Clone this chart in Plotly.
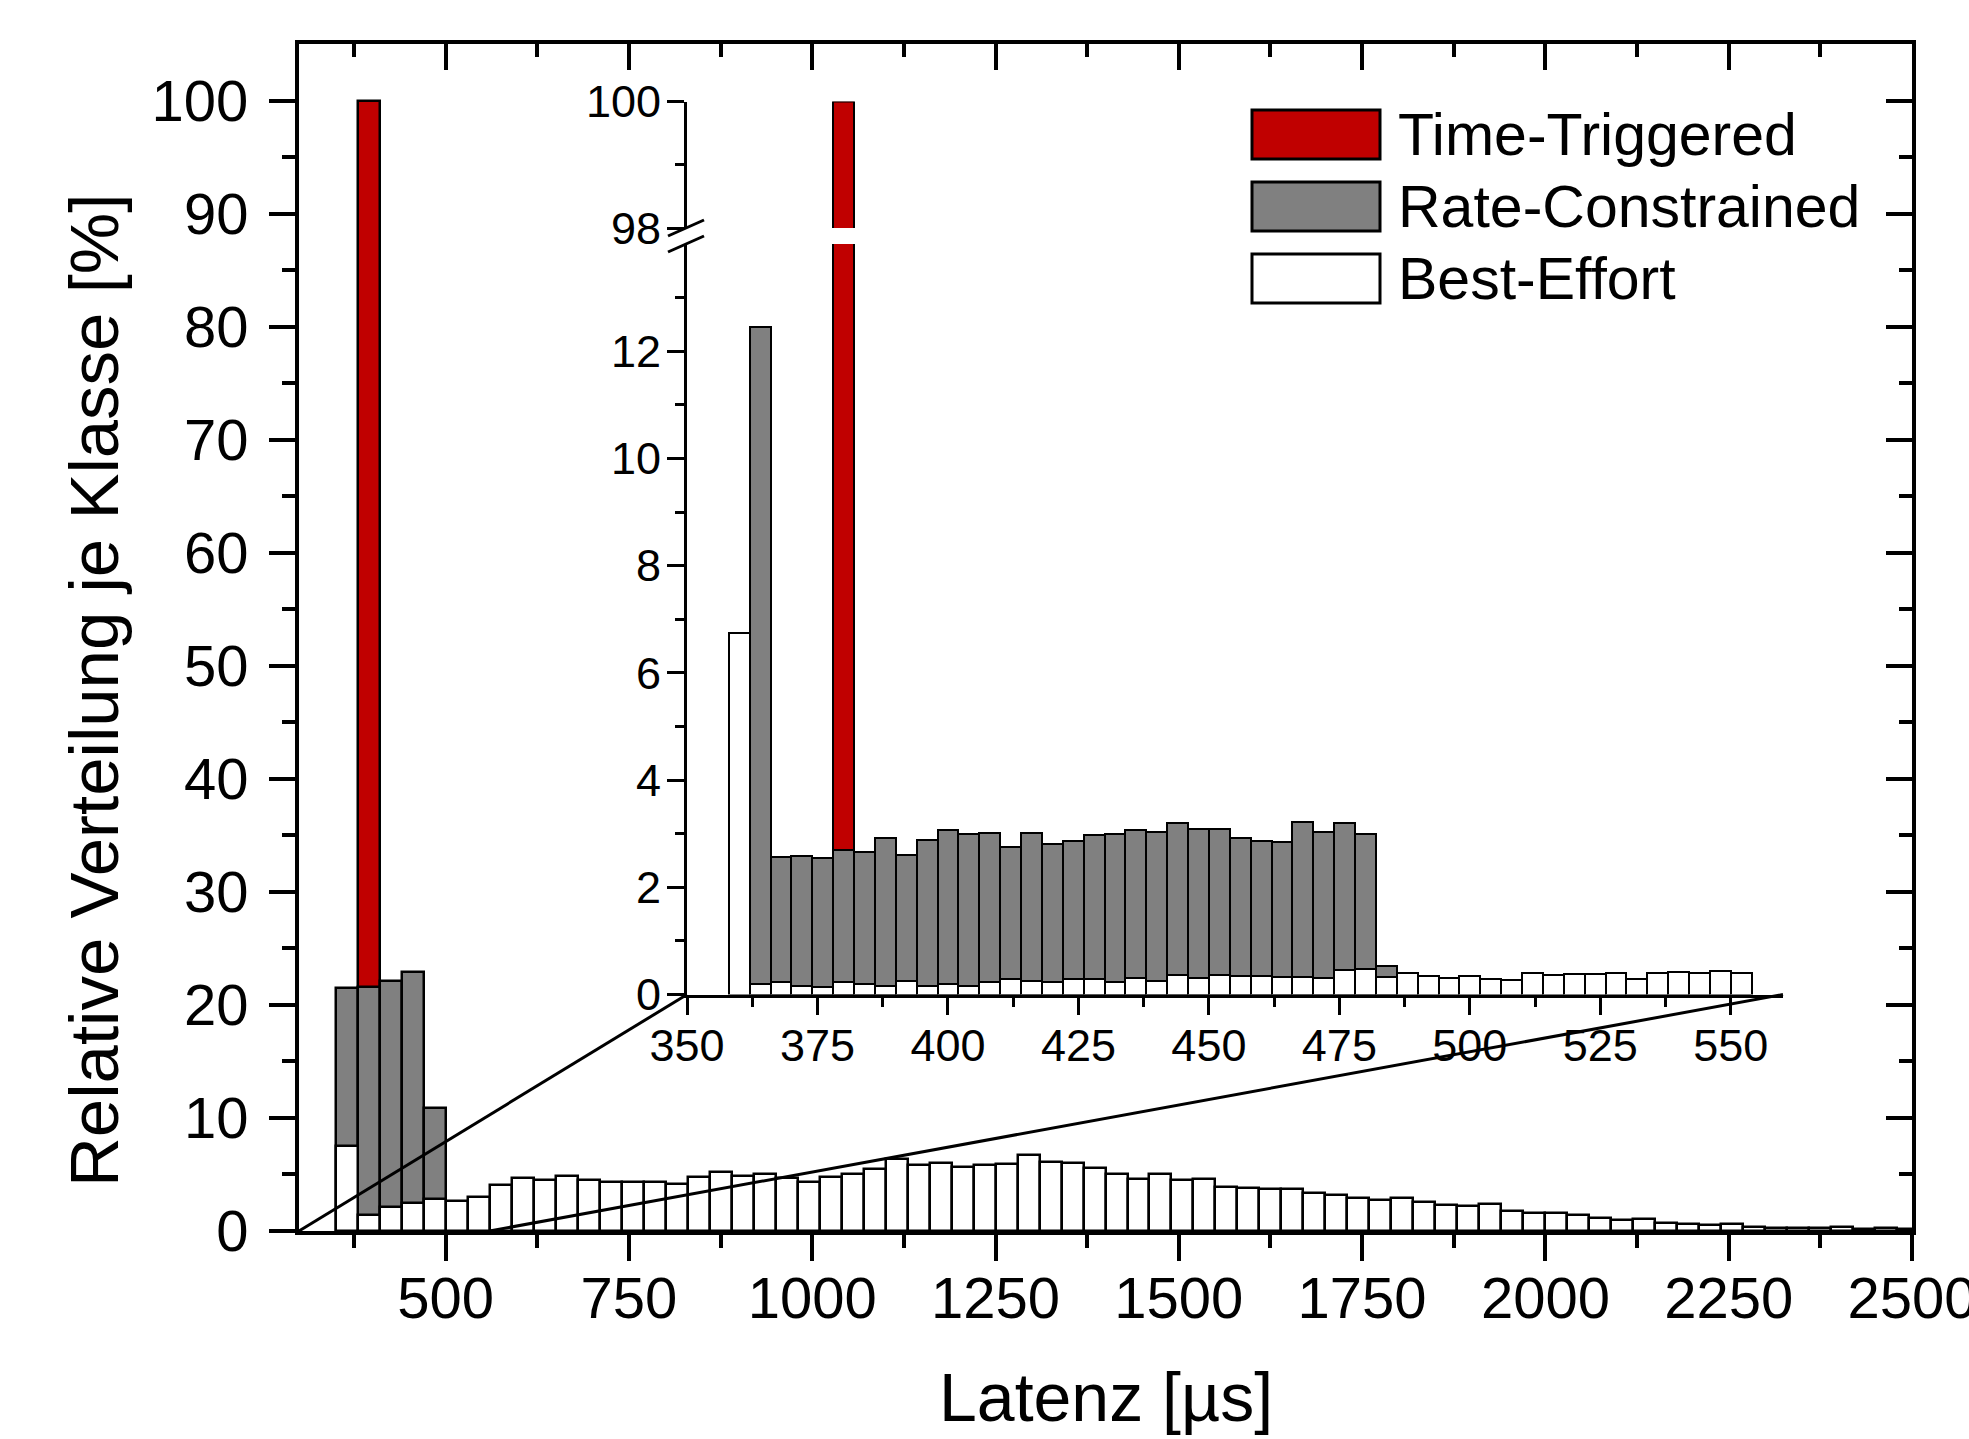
import numpy as np
import plotly.graph_objects as go

# ---- data ----
# main histogram: 30 us bins starting at 350 us
main_bin_start = 350
main_bin_width = 30
main_be = [7.5, 1.4, 2.1, 2.5, 2.8, 2.65, 3.0, 4.1, 4.65, 4.5,
           4.9, 4.5, 4.35, 4.35, 4.35, 4.15, 4.8, 5.25, 4.85, 5.05,
           4.7, 4.37, 4.8, 5.0, 5.5, 6.35, 5.85, 6.05, 5.7, 5.8,
           5.95, 6.75, 6.1, 6.0, 5.6, 5.0, 4.57, 5.0, 4.5, 4.57,
           3.92, 3.78, 3.69, 3.69, 3.33, 3.19, 2.9, 2.74, 2.95, 2.6,
           2.3, 2.2, 2.36, 1.77, 1.62, 1.62, 1.42, 1.18, 0.97, 1.03,
           0.74, 0.59, 0.53, 0.59, 0.38, 0.3, 0.24, 0.28, 0.32, 0.18,
           0.24, 0.2]
main_rc = [21.5, 21.6, 22.1, 22.9, 10.9]
main_tt = [None, 100]

# inset histogram: 4 us bins starting at 358 us
inset_bin_start = 358
inset_bin_width = 4
inset_be = [6.75, 0.2, 0.23, 0.155, 0.137, 0.23, 0.2, 0.155, 0.25, 0.155,
            0.19, 0.155, 0.23, 0.28, 0.25, 0.24, 0.28, 0.29, 0.24, 0.30,
            0.26, 0.36, 0.30, 0.37, 0.34, 0.35, 0.32, 0.32, 0.31, 0.45,
            0.47, 0.335, 0.4, 0.34, 0.31, 0.35, 0.29, 0.27, 0.4, 0.36,
            0.38, 0.38, 0.4, 0.29, 0.4, 0.42, 0.4, 0.43, 0.4]
inset_rc = [None, 12.45, 2.57, 2.59, 2.55, 2.70, 2.65, 2.92, 2.61, 2.89,
            3.07, 2.99, 3.02, 2.75, 3.01, 2.80, 2.86, 2.98, 2.99, 3.06,
            3.04, 3.19, 3.08, 3.09, 2.92, 2.87, 2.85, 3.22, 3.04, 3.19,
            3.0, 0.54]
inset_tt = [None, None, None, None, None, 100]

class_names = ["Time-Triggered", "Rate-Constrained", "Best-Effort"]
class_colors = ["#C00000", "#808080", "#FFFFFF"]

x_title = "Latenz [µs]"
y_title = "Relative Verteilung je Klasse [%]"

# bin centres
main_x = main_bin_start + main_bin_width * (np.arange(len(main_be)) + 0.5)
inset_x = inset_bin_start + inset_bin_width * (np.arange(len(inset_be)) + 0.5)

# ---- geometry ----
W, H = 1969, 1439
FONT = "Liberation Sans, Arial, sans-serif"


def fx(p):
    return p / W


def fy(p):
    return 1 - p / H


main_xrange = [300, 2500]
main_yrange = [0, 105]
main_xdom = [fx(299), fx(1912)]
main_ydom = [fy(1231), fy(44)]

inset_xrange = [350, 560]
inset_yrange = [0, 14]
inset_top_range = [98, 100]
inset_xdom = [fx(687), fx(1783)]
inset_ydom = [fy(994.5), fy(244)]
inset_top_dom = [fy(228), fy(101.5)]


def to_paper(x, y, xr, yr, xd, yd):
    px = xd[0] + (x - xr[0]) / (xr[1] - xr[0]) * (xd[1] - xd[0])
    py = yd[0] + (y - yr[0]) / (yr[1] - yr[0]) * (yd[1] - yd[0])
    return px, py


fig = go.Figure()

# main chart (overlaid bars: TT behind, RC, BE in front)
fig.add_trace(go.Bar(x=main_x[:len(main_tt)], y=main_tt, width=main_bin_width,
                     marker=dict(color=class_colors[0], line=dict(color="black", width=2.5)),
                     xaxis="x", yaxis="y", showlegend=False))
fig.add_trace(go.Bar(x=main_x[:len(main_rc)], y=main_rc, width=main_bin_width,
                     marker=dict(color=class_colors[1], line=dict(color="black", width=2.5)),
                     xaxis="x", yaxis="y", showlegend=False))
fig.add_trace(go.Bar(x=main_x, y=main_be, width=main_bin_width,
                     marker=dict(color=class_colors[2], line=dict(color="black", width=2.5)),
                     xaxis="x", yaxis="y", showlegend=False))

# inset, lower part
fig.add_trace(go.Bar(x=inset_x[:len(inset_tt)], y=inset_tt, width=inset_bin_width,
                     marker=dict(color=class_colors[0], line=dict(color="black", width=2)),
                     xaxis="x2", yaxis="y2", showlegend=False))
fig.add_trace(go.Bar(x=inset_x[:len(inset_rc)], y=inset_rc, width=inset_bin_width,
                     marker=dict(color=class_colors[1], line=dict(color="black", width=2)),
                     xaxis="x2", yaxis="y2", showlegend=False))
fig.add_trace(go.Bar(x=inset_x, y=inset_be, width=inset_bin_width,
                     marker=dict(color=class_colors[2], line=dict(color="black", width=2)),
                     xaxis="x2", yaxis="y2", showlegend=False))
# inset, upper part above the break
fig.add_trace(go.Bar(x=inset_x[:len(inset_tt)], y=inset_tt, width=inset_bin_width,
                     marker=dict(color=class_colors[0], line=dict(color="black", width=2)),
                     xaxis="x2", yaxis="y4", showlegend=False))

# dummy trace so the mirrored top / right axes get drawn
fig.add_trace(go.Scatter(x=[None], y=[None], xaxis="x3", yaxis="y3",
                         showlegend=False, hoverinfo="skip"))

main_tick = dict(showgrid=False, zeroline=False, showline=True, linecolor="black",
                 linewidth=4, tickcolor="black", tickwidth=4, ticklen=26,
                 automargin=False, ticklabeloverflow="allow",
                 tickfont=dict(family=FONT, size=58, color="black"))
inset_tick = dict(showgrid=False, zeroline=False, showline=True, linecolor="black",
                  linewidth=3, tickcolor="black", tickwidth=3, ticklen=17, ticks="outside",
                  automargin=False, ticklabeloverflow="allow",
                  tickfont=dict(family=FONT, size=45, color="black"))

fig.update_layout(
    width=W, height=H,
    margin=dict(l=0, r=0, t=0, b=0, pad=0, autoexpand=False),
    paper_bgcolor="white", plot_bgcolor="white",
    barmode="overlay", bargap=0,
    showlegend=False,
    xaxis=dict(main_tick, domain=main_xdom, range=main_xrange, anchor="y",
               ticks="outside", tickmode="linear", tick0=500, dtick=250,
               minor=dict(ticks="outside", ticklen=13, tickwidth=4, tickcolor="black",
                          tickmode="linear", tick0=500, dtick=125),
               ticklabelstandoff=-13),
    yaxis=dict(main_tick, domain=main_ydom, range=main_yrange, anchor="x",
               ticks="outside", tickmode="linear", tick0=0, dtick=10,
               minor=dict(ticks="outside", ticklen=13, tickwidth=4, tickcolor="black",
                          tickvals=list(range(5, 100, 10))),
               ticklabelstandoff=9),
    xaxis3=dict(main_tick, domain=main_xdom, range=main_xrange, overlaying="x",
                side="top", anchor="y", ticks="inside", showticklabels=False,
                tickmode="linear", tick0=500, dtick=250,
                minor=dict(ticks="inside", ticklen=13, tickwidth=4, tickcolor="black",
                           tickmode="linear", tick0=500, dtick=125)),
    yaxis3=dict(main_tick, domain=main_ydom, range=main_yrange, overlaying="y",
                side="right", anchor="x", ticks="inside", showticklabels=False,
                tickmode="linear", tick0=0, dtick=10,
                minor=dict(ticks="inside", ticklen=13, tickwidth=4, tickcolor="black",
                           tickvals=list(range(5, 100, 10)))),
    xaxis2=dict(inset_tick, domain=inset_xdom, range=inset_xrange, anchor="y2",
                tickmode="linear", tick0=350, dtick=25,
                minor=dict(ticks="outside", ticklen=9, tickwidth=3, tickcolor="black",
                           tickmode="linear", tick0=350, dtick=12.5),
                ticklabelstandoff=-8),
    yaxis2=dict(inset_tick, domain=inset_ydom, range=inset_yrange, anchor="x2",
                tickmode="array", tickvals=list(range(0, 13, 2)),
                minor=dict(ticks="outside", ticklen=9, tickwidth=3, tickcolor="black",
                           tickvals=list(range(1, 14, 2))),
                ticklabelstandoff=-3),
    yaxis4=dict(inset_tick, domain=inset_top_dom, range=inset_top_range, anchor="x2",
                tickmode="array", tickvals=[98, 100],
                minor=dict(ticks="outside", ticklen=9, tickwidth=3, tickcolor="black",
                           tickvals=[99]),
                ticklabelstandoff=-3),
)

shapes = []

# zoom lines from the main axis to the inset axis
zoom_from = [300, 560]
zoom_to = [350, 560]
for a, b in zip(zoom_from, zoom_to):
    x0, y0 = to_paper(a, 0, main_xrange, main_yrange, main_xdom, main_ydom)
    x1, y1 = to_paper(b, 0, inset_xrange, inset_yrange, inset_xdom, inset_ydom)
    shapes.append(dict(type="line", xref="paper", yref="paper", x0=x0, y0=y0, x1=x1, y1=y1,
                       line=dict(color="black", width=3), layer="above"))

# axis break marks on the inset y axis
for yb in [inset_top_dom[0], inset_ydom[1]]:
    shapes.append(dict(type="line", xref="paper", yref="paper",
                       x0=inset_xdom[0] - 19 / W, y0=yb - 8 / H,
                       x1=inset_xdom[0] + 17 / W, y1=yb + 8 / H,
                       line=dict(color="black", width=3), layer="above"))

# hand-made legend with large swatches
annotations = []
leg_x0, leg_x1 = 1252, 1380
leg_rows = [110, 182, 254]
for name, col, top in zip(class_names, class_colors, leg_rows):
    shapes.append(dict(type="rect", xref="paper", yref="paper",
                       x0=fx(leg_x0), x1=fx(leg_x1), y0=fy(top + 49), y1=fy(top),
                       fillcolor=col, line=dict(color="black", width=3), layer="above"))
    annotations.append(dict(text=name, xref="paper", yref="paper", x=fx(1396), y=fy(top + 25),
                            xanchor="left", yanchor="middle", showarrow=False,
                            font=dict(family=FONT, size=59, color="black")))

annotations.append(dict(text=x_title, xref="paper", yref="paper",
                        x=(main_xdom[0] + main_xdom[1]) / 2, y=fy(1397),
                        xanchor="center", yanchor="middle", showarrow=False,
                        font=dict(family=FONT, size=68, color="black")))
annotations.append(dict(text=y_title, xref="paper", yref="paper", textangle=-90,
                        x=fx(94), y=fy(691), xanchor="center", yanchor="middle",
                        showarrow=False, font=dict(family=FONT, size=69, color="black")))

fig.update_layout(shapes=shapes, annotations=annotations)

fig.write_html("out.html", config={"displayModeBar": False},
               post_script="document.body.style.margin='0px';document.body.style.overflow='hidden';")
